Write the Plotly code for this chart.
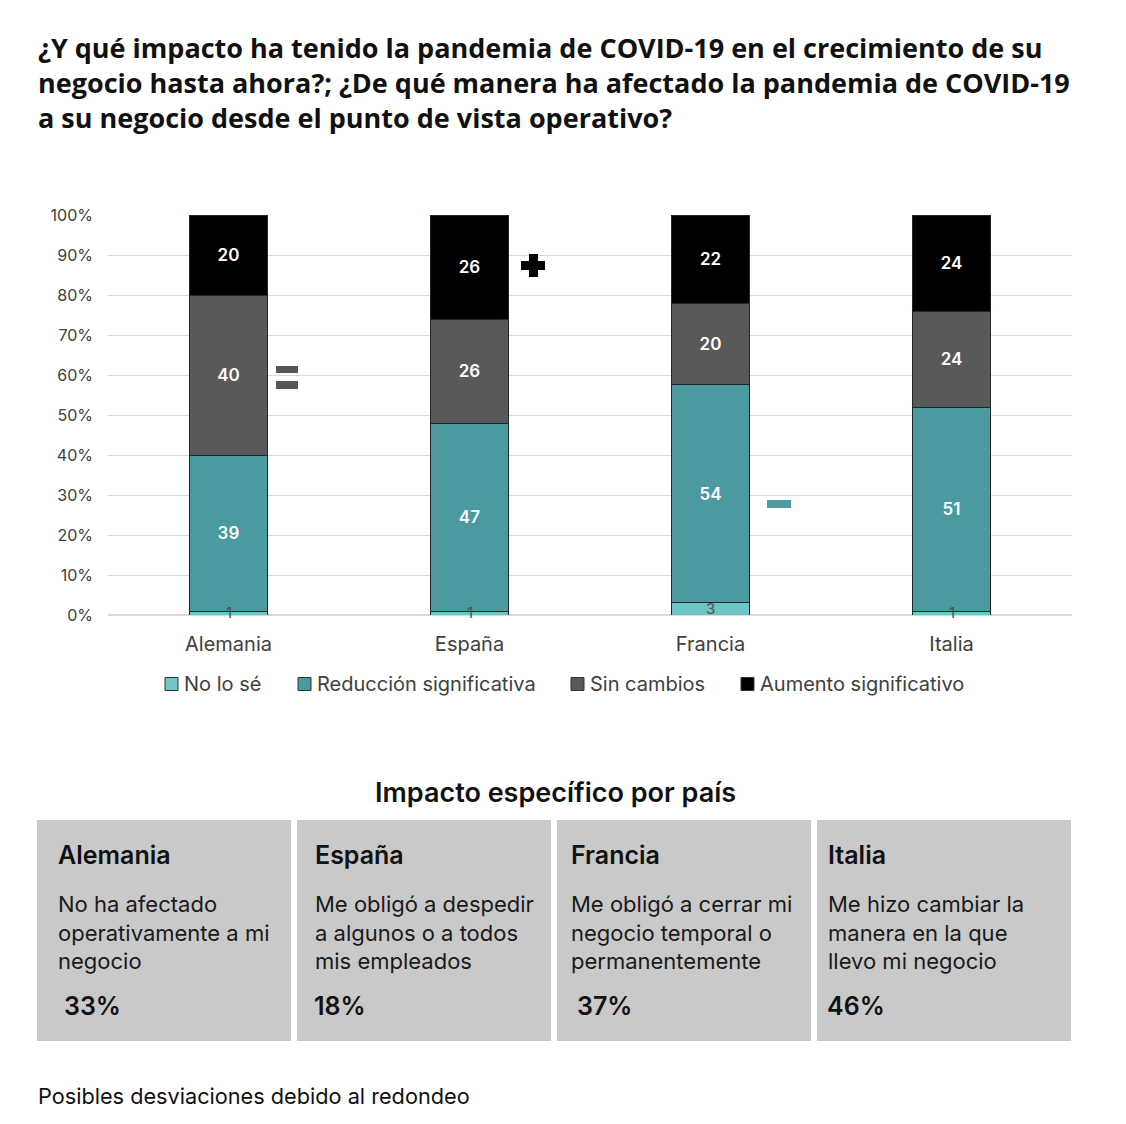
import plotly.graph_objects as go

W, H = 1126, 1124

countries = ["Alemania", "España", "Francia", "Italia"]
series_names = ["No lo sé", "Reducción significativa", "Sin cambios", "Aumento significativo"]
no_lo_se = [1, 1, 3, 1]
reduccion = [39, 47, 54, 51]
sin_cambios = [40, 26, 20, 24]
aumento = [20, 26, 22, 24]
series_values = [no_lo_se, reduccion, sin_cambios, aumento]
series_colors = ["#6fc4c6", "#4a9a9f", "#595959", "#000000"]

box_titles = ["Alemania", "España", "Francia", "Italia"]
box_texts = [
    "No ha afectado<br>operativamente a mi<br>negocio",
    "Me obligó a despedir<br>a algunos o a todos<br>mis empleados",
    "Me obligó a cerrar mi<br>negocio temporal o<br>permanentemente",
    "Me hizo cambiar la<br>manera en la que<br>llevo mi negocio",
]
box_pcts = ["33%", "18%", "37%", "46%"]

FONT = "Inter"
OFF = 8  # page body margin offset


def px(x):
    return (x - OFF) / W


def py(y):
    return 1 - (y - OFF) / H


fig = go.Figure()
for name, vals, col in zip(series_names, series_values, series_colors):
    is_small = name == "No lo sé"
    fig.add_trace(go.Bar(
        x=countries, y=vals, name=name,
        marker=dict(color=col, line=dict(color="#1e2a2a", width=1)),
        text=[str(v) for v in vals],
        textposition="none" if is_small else "inside",
        insidetextanchor="middle",
        textfont=dict(color="white", size=17, family=FONT, weight=600),
        constraintext="none",
        width=0.32,
        hoverinfo="skip",
        showlegend=False,
    ))

totals = [sum(s[i] for s in series_values) for i in range(len(countries))]
annotations = []
shapes = []
for i, c in enumerate(countries):
    annotations.append(dict(
        x=c, y=no_lo_se[i] / totals[i] * 100 / 2, xref="x", yref="y",
        text=str(no_lo_se[i]), showarrow=False,
        font=dict(size=15, color="#4d4d4d", family=FONT),
        yanchor="middle",
    ))

# Manual legend
legend_x = [165, 298, 571, 741]
LY = 684
for lx, name, col in zip(legend_x, series_names, series_colors):
    shapes.append(dict(type="rect", xref="paper", yref="paper",
                       x0=px(lx), x1=px(lx + 13), y0=py(LY + 6.5), y1=py(LY - 6.5),
                       fillcolor=col, line=dict(color="#333333", width=1)))
    annotations.append(dict(
        x=px(lx + 17), y=py(LY), xref="paper", yref="paper",
        text=name, showarrow=False, xanchor="left", yanchor="middle",
        font=dict(size=20, color="#404040", family=FONT),
    ))

annotations.append(dict(
    x=px(555), y=py(792), xref="paper", yref="paper",
    text="Impacto específico por país", showarrow=False,
    font=dict(size=27, color="#111111", family=FONT, weight=600),
    xanchor="center", yanchor="middle",
))

box_left = [37, 297, 557, 817]
box_w = 254
title_off = [19, 16, 12, 9]
pct_off = [25, 15, 18, 8]
for i in range(4):
    x0 = box_left[i]
    shapes.append(dict(type="rect", xref="paper", yref="paper",
                       x0=px(x0), x1=px(x0 + box_w), y0=py(1041), y1=py(820),
                       fillcolor="#c9c9c9", line=dict(width=0), layer="below"))
    annotations.append(dict(
        x=px(x0 + title_off[i]), y=py(855), xref="paper", yref="paper",
        text=box_titles[i], showarrow=False, xanchor="left", yanchor="middle",
        font=dict(size=25, color="#111111", family=FONT, weight=600),
    ))
    annotations.append(dict(
        x=px(x0 + title_off[i]), y=py(932), xref="paper", yref="paper",
        text=box_texts[i], showarrow=False, xanchor="left", yanchor="middle",
        align="left",
        font=dict(size=22, color="#1a1a1a", family=FONT),
    ))
    annotations.append(dict(
        x=px(x0 + pct_off[i]), y=py(1006), xref="paper", yref="paper",
        text=box_pcts[i], showarrow=False, xanchor="left", yanchor="middle",
        font=dict(size=25, color="#111111", family=FONT, weight=600),
    ))

annotations.append(dict(
    x=px(36), y=py(1096), xref="paper", yref="paper",
    text="Posibles desviaciones debido al redondeo", showarrow=False,
    xanchor="left", yanchor="middle",
    font=dict(size=21.7, color="#111111", family=FONT),
))

shapes += [
    dict(type="rect", xref="paper", yref="paper", x0=px(276), x1=px(298), y0=py(373), y1=py(366),
         fillcolor="#555555", line=dict(width=0)),
    dict(type="rect", xref="paper", yref="paper", x0=px(276), x1=px(298), y0=py(389), y1=py(381),
         fillcolor="#555555", line=dict(width=0)),
    dict(type="rect", xref="paper", yref="paper", x0=px(521), x1=px(545), y0=py(270), y1=py(261),
         fillcolor="#000000", line=dict(width=0)),
    dict(type="rect", xref="paper", yref="paper", x0=px(529), x1=px(538), y0=py(277), y1=py(254),
         fillcolor="#000000", line=dict(width=0)),
    dict(type="rect", xref="paper", yref="paper", x0=px(767), x1=px(791), y0=py(508), y1=py(500),
         fillcolor="#4a9a9f", line=dict(width=0)),
]

fig.update_layout(
    width=W, height=H,
    barmode="stack", barnorm="percent",
    paper_bgcolor="white", plot_bgcolor="white",
    margin=dict(l=0, r=0, t=0, b=0, autoexpand=False),
    font=dict(family=FONT, color="#404040"),
    title=dict(
        text="¿Y qué impacto ha tenido la pandemia de COVID-19 en el crecimiento de su<br>"
             "negocio hasta ahora?; ¿De qué manera ha afectado la pandemia de COVID-19<br>"
             "a su negocio desde el punto de vista operativo?",
        x=px(38), xanchor="left", xref="paper",
        y=1 - (58 - OFF) / H, yanchor="top", yref="container",
        font=dict(size=27, color="#111111", family="Open Sans", weight=700),
    ),
    xaxis=dict(domain=[px(108), px(1072)], showgrid=False, showline=False,
               tickfont=dict(size=20, color="#404040", family=FONT),
               ticklabelstandoff=15, fixedrange=True),
    yaxis=dict(domain=[py(615), py(215)], range=[0, 100], dtick=10, ticksuffix="%",
               showgrid=True, gridcolor="#d9d9d9", gridwidth=1, zeroline=True,
               zerolinecolor="#d9d9d9",
               tickfont=dict(size=16, color="#404040", family=FONT),
               ticklabelstandoff=14, fixedrange=True),
    shapes=shapes,
    annotations=annotations,
    showlegend=False,
)

fig.write_html("out.html")
